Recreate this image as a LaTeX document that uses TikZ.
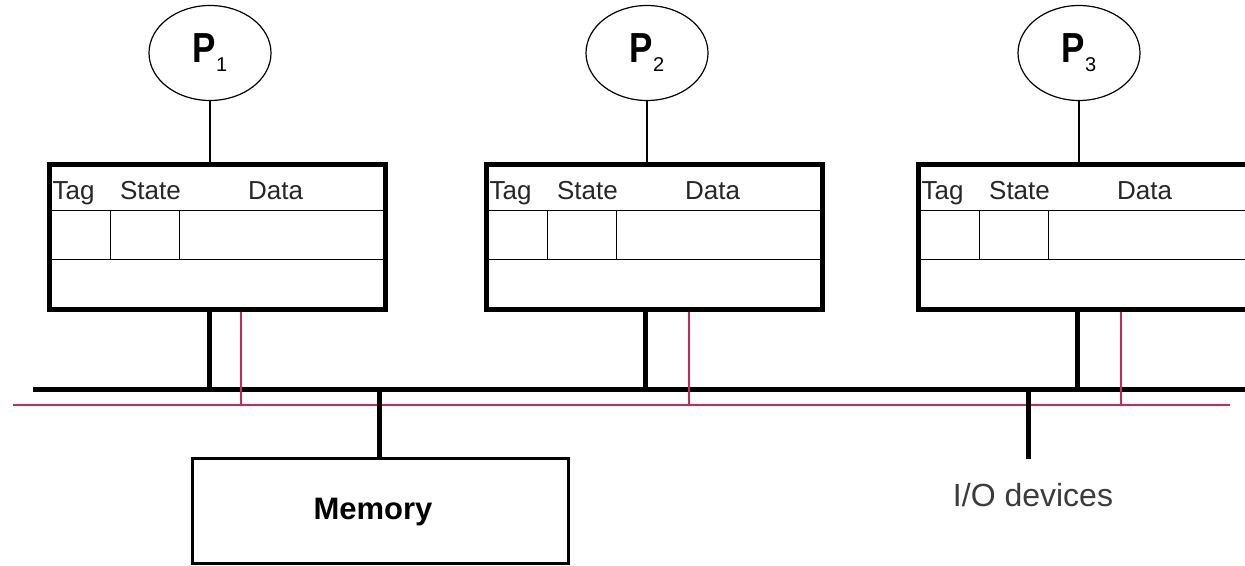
\documentclass[tikz,border=0pt]{standalone}
\usepackage{fontspec}
\usepackage{graphicx}
\setmainfont{Liberation Sans}
\usetikzlibrary{shapes.geometric}
\definecolor{busred}{RGB}{205,40,85}
\definecolor{iogray}{RGB}{60,60,60}
\newcommand{\plabel}[1]{\scalebox{1.25}[1.5]{\bfseries P}\raisebox{-4.5pt}{\fontsize{10pt}{10pt}\selectfont\mdseries #1}}
\begin{document}
\begin{tikzpicture}[x=0.5pt,y=-0.5pt,
  proc/.style={ellipse,draw,line width=0.6pt,minimum width=61pt,minimum height=47.5pt,inner sep=0pt,font=\fontsize{14pt}{14pt}\selectfont\bfseries},
  cache/.style={rectangle,draw,line width=2.5pt,minimum width=168pt,minimum height=72pt,inner sep=0pt},
  thinline/.style={line width=0.75pt},
  stem/.style={line width=2.5pt},
  link/.style={line width=1.2pt},
  sig/.style={busred,line width=0.75pt},
  hdr/.style={font=\fontsize{13pt}{15pt}\selectfont,inner sep=0pt,anchor=base,text=black!85},
  membox/.style={rectangle,draw,line width=1.5pt,minimum width=188pt,minimum height=52.5pt,inner sep=0pt}]
\clip (0,0) rectangle (1245,566);
\fill[white] (0,0) rectangle (1245,566);

% processors
\node[proc] (p1) at (210,53) {\plabel{1}};
\node[proc] (p2) at (647,53) {\plabel{2}};
\node[proc] (p3) at (1079,53) {\plabel{3}};

% caches
\node[cache] (c1) at (217,237) {};
\node[cache] (c2) at (654,237) {};
\node[cache] (c3) at (1086,237) {};

\foreach \c in {c1,c2,c3}{
  \draw[thinline] ([shift={(0,48)}]\c.north west) -- ([shift={(0,48)}]\c.north east);
  \draw[thinline] ([shift={(0,97)}]\c.north west) -- ([shift={(0,97)}]\c.north east);
  \draw[thinline] ([shift={(64,48)}]\c.north west) -- ([shift={(64,97)}]\c.north west);
  \draw[thinline] ([shift={(133,48)}]\c.north west) -- ([shift={(133,97)}]\c.north west);
  \node[hdr] at ([shift={(27,37)}]\c.north west) {Tag};
  \node[hdr] at ([shift={(104,37)}]\c.north west) {State};
  \node[hdr] at ([shift={(229,37)}]\c.north west) {Data};
}

% processor to cache links
\draw[link] (p1.south) -- (p1.south |- c1.north);
\draw[link] (p2.south) -- (p2.south |- c2.north);
\draw[link] (p3.south) -- (p3.south |- c3.north);

% buses
\coordinate (busL) at (33,389);
\coordinate (busR) at (1250,389);
\coordinate (redL) at (13,405);
\coordinate (redR) at (1230,405);
\draw[sig] (redL) -- (redR);
\draw[stem] (busL) -- (busR);

% cache stems
\coordinate (s1) at (209,389);
\coordinate (s2) at (645,389);
\coordinate (s3) at (1077,389);
\draw[stem] (s1 |- c1.south) -- (s1);
\draw[stem] (s2 |- c2.south) -- (s2);
\draw[stem] (s3 |- c3.south) -- (s3);
\coordinate (r1) at (241,405);
\coordinate (r2) at (689,405);
\coordinate (r3) at (1121,405);
\draw[sig] (r1 |- c1.south) -- (r1);
\draw[sig] (r2 |- c2.south) -- (r2);
\draw[sig] (r3 |- c3.south) -- (r3);

% memory
\node[membox] (mem) at (380,510.5) {};
\node[font=\fontsize{15.5pt}{17pt}\selectfont\bfseries,inner sep=0pt] (memtext) at (373,512) {Memory};
\coordinate (ms) at (379,389);
\draw[stem] (ms) -- (ms |- mem.north);

% I/O devices
\coordinate (ios) at (1028,389);
\coordinate (ioe) at (1028,459);
\draw[stem] (ios) -- (ioe);
\node[font=\fontsize{16pt}{18pt}\selectfont,text=iogray,inner sep=0pt] (io) at (1033,495) {I/O devices};
\end{tikzpicture}
\end{document}
